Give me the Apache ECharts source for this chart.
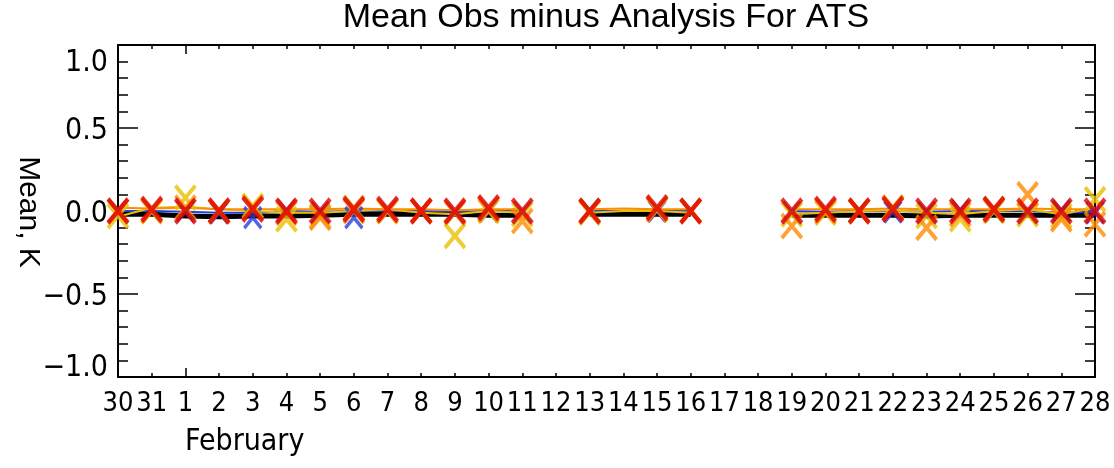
<!DOCTYPE html>
<html>
<head>
<meta charset="utf-8">
<script src="https://cdn.jsdelivr.net/npm/echarts@6/dist/echarts.min.js"></script>
<style>html,body{margin:0;padding:0;background:#fff}#c{width:1114px;height:468px}</style>
</head>
<body>
<div id="c"></div>
<script>
// Day tick labels: Jan 30 .. Feb 28
const tickLabels = ['30','31','1','2','3','4','5','6','7','8','9','10','11','12','13','14','15','16','17','18','19','20','21','22','23','24','25','26','27','28'];
const yTicks = [-1.0, -0.5, 0.0, 0.5, 1.0];
// Line series (daily values, null = no data)
const blackLine  = [-0.02,-0.02,-0.03,-0.035,-0.03,-0.03,-0.025,-0.02,-0.02,-0.02,-0.02,-0.025,-0.025,null,-0.02,-0.02,-0.02,-0.02,null,null,-0.025,-0.025,-0.025,-0.025,-0.03,-0.025,-0.025,-0.025,-0.025,-0.025];
const blueLine   = [0.0,0.0,-0.005,-0.01,-0.01,0.0,-0.005,0.0,0.0,0.0,-0.005,0.0,0.0,null,0.0,0.0,0.005,0.0,null,null,0.0,-0.005,0.0,0.0,-0.005,0.0,0.0,0.0,-0.01,-0.005];
const yellowLine = [-0.035,0.02,0.025,0.01,0.0,-0.01,-0.01,0.0,0.01,-0.01,-0.02,0.0,-0.01,null,-0.01,0.0,0.0,-0.01,null,null,-0.02,-0.01,0.0,0.005,-0.01,-0.02,0.0,0.01,-0.02,0.02];
const orangeLine = [0.02,0.015,0.02,0.01,0.01,0.01,0.01,0.015,0.01,0.01,0.005,0.01,0.01,null,0.01,0.015,0.01,0.01,null,null,0.01,0.01,0.01,0.015,0.01,0.01,0.01,0.015,0.01,0.01];
// X-marker series (daily means)
const blueX   = [0.0,0.0,0.0,-0.01,-0.04,0.0,-0.01,-0.04,0.0,0.0,-0.01,0.0,-0.01,null,0.0,null,0.0,0.0,null,null,-0.01,0.0,0.0,-0.005,-0.01,0.0,0.0,-0.01,0.0,-0.01];
const yellowX = [-0.03,0.0,0.08,0.0,0.03,-0.05,-0.03,0.02,0.0,0.0,-0.15,0.0,-0.02,null,-0.01,null,0.01,0.0,null,null,-0.02,-0.01,0.0,0.02,-0.03,-0.05,0.0,-0.02,-0.03,0.07];
const orangeX = [0.0,0.0,0.02,0.0,0.02,-0.01,-0.04,0.0,0.0,0.0,-0.01,0.01,-0.06,null,0.0,null,0.01,0.0,null,null,-0.09,0.0,0.0,0.02,-0.1,-0.02,0.01,0.1,-0.05,-0.08];
const redX    = [0.0,0.01,0.0,0.0,0.01,0.0,0.0,0.01,0.01,0.0,0.0,0.02,0.0,null,0.0,null,0.02,0.0,null,null,0.0,0.01,0.0,0.01,0.0,0.0,0.01,0.0,0.0,0.0];

const NARROW = "'Liberation Sans Narrow','DejaVu Sans Condensed',sans-serif";
const SANS = "'Liberation Sans',Arial,sans-serif";

function lineData(arr){ return arr.map((v,i)=>[i, v==null?'-':v]); }
function ptData(arr){ const o=[]; arr.forEach((v,i)=>{ if(v!=null) o.push([i,v]); }); return o; }
const XSYM = 'path://M0,0L20,24M20,0L0,24';

function lineSeries(arr,color,width,z){
  return {type:'line', data:lineData(arr), showSymbol:false, symbol:'none', lineStyle:{color:color,width:width}, z:z, animation:false, connectNulls:false};
}
function xSeries(arr,color,size,bw,z){
  return {type:'scatter', data:ptData(arr), symbol:XSYM, symbolSize:size, itemStyle:{color:'none',borderColor:color,borderWidth:bw}, z:z, animation:false, clip:true};
}

const chart = echarts.init(document.getElementById('c'), null, {renderer:'canvas'});
const axisLine = {show:true, onZero:false, lineStyle:{color:'#000', width:2}};
const noLine = {show:false, onZero:false};
const yLabelFmt = function(v){
  const s = (v < -1e-9 ? '\u2212' : '') + Math.abs(v).toFixed(1);
  if (Math.abs(v-1) < 1e-9) return '{t|'+s+'}';
  if (Math.abs(v+1) < 1e-9) return '{b|'+s+'}';
  return '{m|'+s+'}';
};
const rs = {fontFamily:NARROW, fontSize:30, color:'#000'};
chart.setOption({
  animation:false,
  title:{text:'Mean Obs minus Analysis For ATS', left:606, textAlign:'center', top:1, padding:0,
         textStyle:{fontFamily:SANS, fontSize:34, fontWeight:'normal', color:'#000'}},
  grid:{left:118, right:19, top:45, bottom:91, containLabel:false},
  xAxis:[
    {type:'value', position:'bottom', min:0, max:29, interval:1, axisLine:axisLine,
     axisTick:{show:true, inside:true, length:4, lineStyle:{color:'#000',width:1.5}},
     axisLabel:{show:true, margin:13, formatter:function(v){return tickLabels[Math.round(v)];}, fontFamily:NARROW, fontSize:27, color:'#000'},
     splitLine:{show:false}},
    {type:'value', position:'top', min:0, max:29, interval:1, axisLine:axisLine,
     axisTick:{show:true, inside:true, length:4, lineStyle:{color:'#000',width:1.5}},
     axisLabel:{show:false}, splitLine:{show:false}},
    {type:'value', position:'bottom', min:0, max:29, axisLine:noLine,
     axisTick:{show:true, inside:true, length:9, customValues:[2], lineStyle:{color:'#000',width:1.5}},
     axisLabel:{show:false}, splitLine:{show:false}},
    {type:'value', position:'top', min:0, max:29, axisLine:noLine,
     axisTick:{show:true, inside:true, length:9, customValues:[2], lineStyle:{color:'#000',width:1.5}},
     axisLabel:{show:false}, splitLine:{show:false}}
  ],
  yAxis:[
    {type:'value', position:'left', min:-1, max:1, interval:0.5, axisLine:axisLine,
     axisTick:{show:true, inside:true, length:20, lineStyle:{color:'#000',width:1.5}},
     minorTick:{show:true, splitNumber:5, length:10, lineStyle:{color:'#000',width:1.5}},
     axisLabel:{show:true, margin:10, formatter:yLabelFmt, fontFamily:NARROW, fontSize:30, color:'#000',
       rich:{t:Object.assign({padding:[36,0,0,0]},rs), b:Object.assign({padding:[0,0,18,0]},rs), m:Object.assign({padding:[7,0,0,0]},rs)}},
     splitLine:{show:false}, minorSplitLine:{show:false}},
    {type:'value', position:'right', min:-1, max:1, interval:0.5, axisLine:axisLine,
     axisTick:{show:true, inside:true, length:20, lineStyle:{color:'#000',width:1.5}},
     minorTick:{show:true, splitNumber:5, length:10, lineStyle:{color:'#000',width:1.5}},
     axisLabel:{show:false}, splitLine:{show:false}, minorSplitLine:{show:false}}
  ],
  graphic:[
    {type:'text', x:28, y:212, rotation:-Math.PI/2,
     style:{text:'Mean, K', fontFamily:SANS, fontSize:30, fill:'#000', align:'center', verticalAlign:'middle'}},
    {type:'text', left:185, top:427,
     style:{text:'February', fontFamily:NARROW, fontSize:30, fill:'#000'}}
  ],
  series:[
    lineSeries(blackLine,'#000000',5,2),
    lineSeries(blueLine,'#1f3fe0',2,3),
    lineSeries(yellowLine,'#e6c000',2,3),
    lineSeries(orangeLine,'#ff8c00',2,3),
    xSeries(blueX,'#2040e0',[17,21],3.5,4),
    xSeries(yellowX,'#e8c000',[20,24],4,5),
    xSeries(orangeX,'#ff8a00',[20,24],4,6),
    xSeries(redX,'#e00000',[20,24],4.5,7)
  ]
});
</script>
</body>
</html>
